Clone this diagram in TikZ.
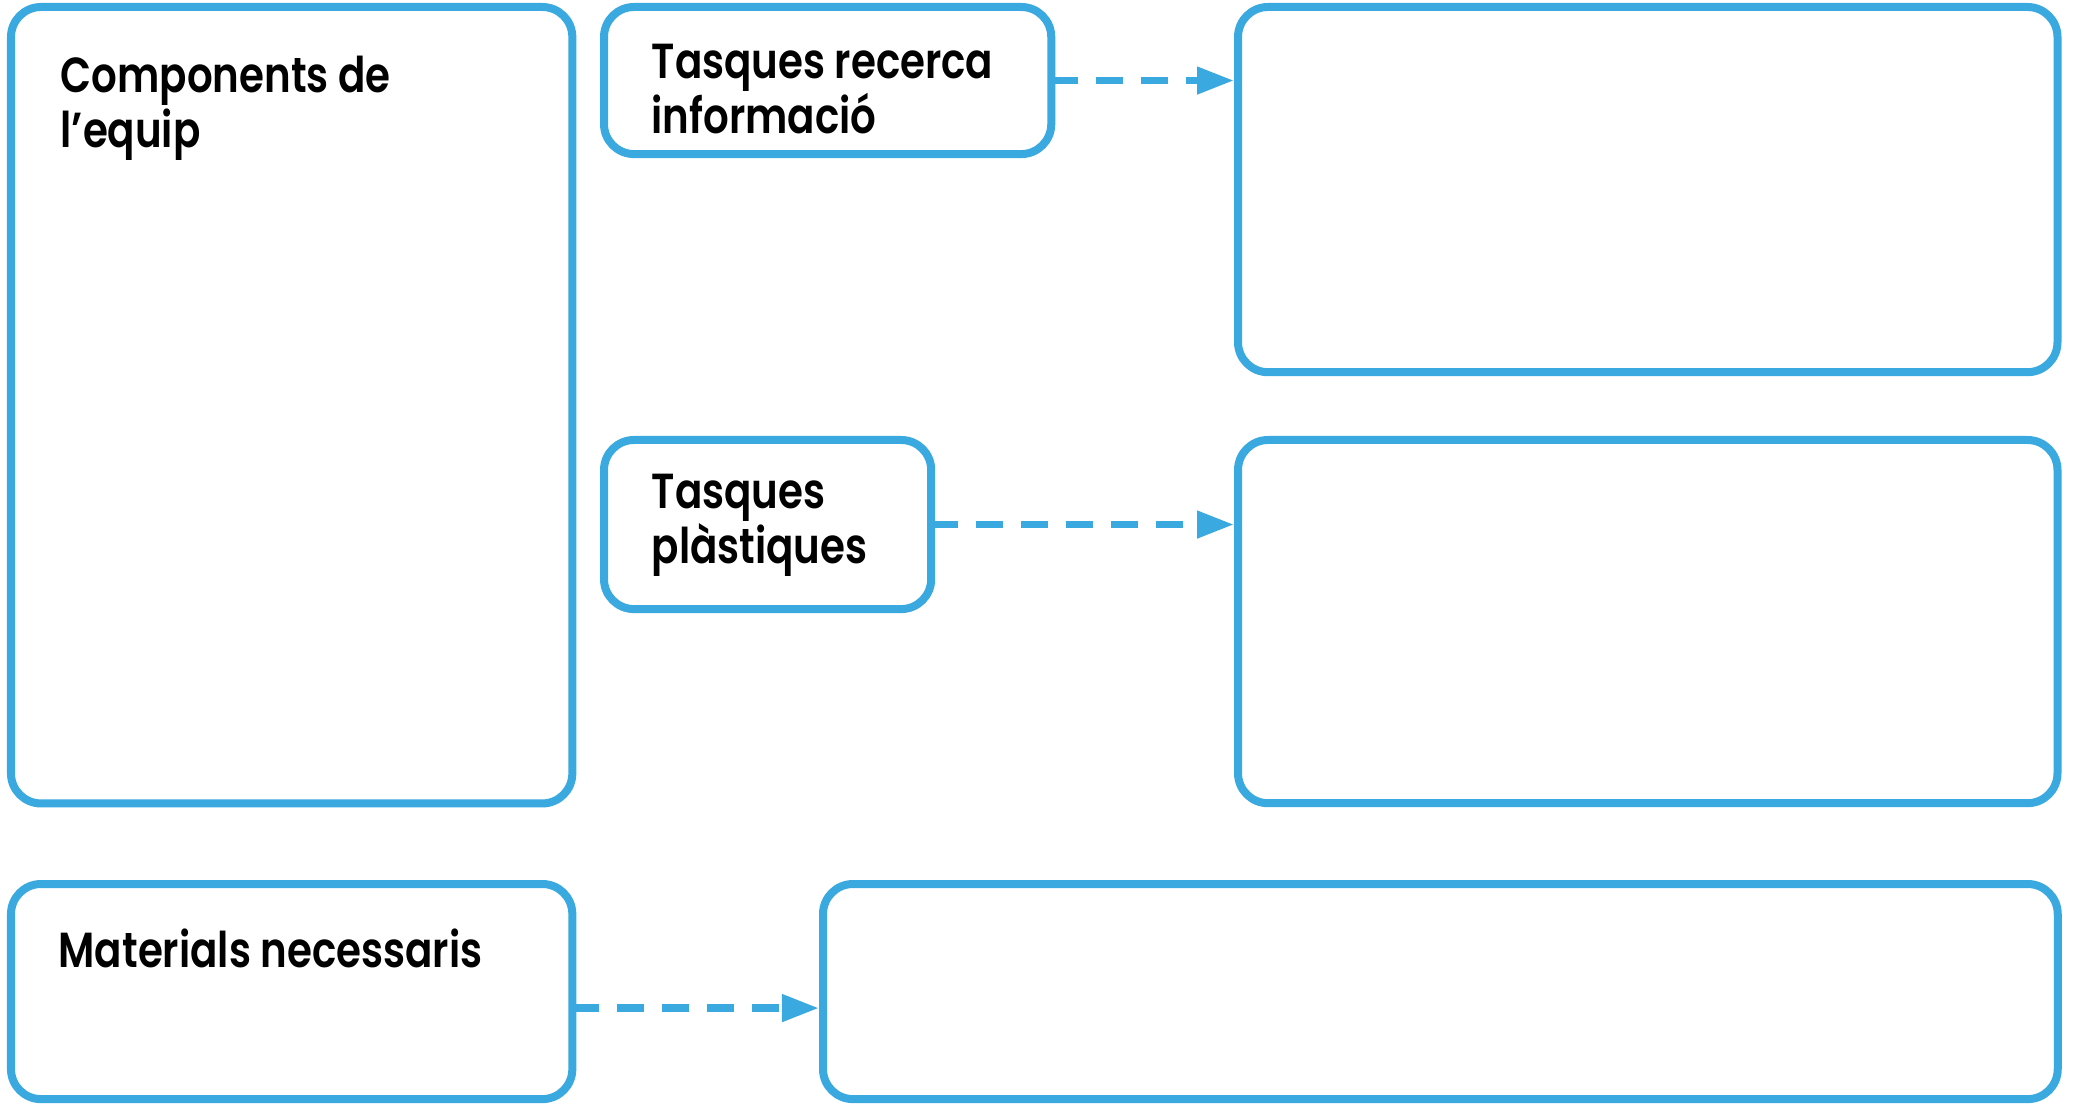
\documentclass[tikz,border=0pt]{standalone}
\usepackage{fontspec}
\setmainfont{Poppins}[BoldFont={Poppins SemiBold}, BoldFeatures={FakeStretch=0.82}]
\usetikzlibrary{arrows.meta}
\definecolor{sheetblue}{RGB}{58,169,224}

\begin{document}
\begin{tikzpicture}[x=0.01cm, y=-0.01cm,
					panel/.style={
						draw=sheetblue, fill=white, line width=0.08cm,
						rounded corners=0.3cm, inner sep=0pt, outer sep=0pt,
						anchor=north west
					},
					title/.style={
						anchor=base west, align=left, inner sep=0pt,
						font=\fontsize{14}{15.8}\selectfont\bfseries
					},
					link/.style={
						draw=sheetblue, line width=0.075cm,
						dash pattern=on 0.27cm off 0.18cm,
						-{Triangle[length=0.37cm,width=0.26cm]}, shorten >=0.04cm
					}
					]
					\useasboundingbox[fill=white] (0,0) rectangle (2083,1107);
					
					% columna esquerra
					\node[panel, minimum width=5.61cm, minimum height=7.96cm] (comp) at (11,7) {};
					\node[panel, minimum width=5.61cm, minimum height=2.15cm] (mat)  at (11,884) {};
					
					% tasques
					\node[panel, minimum width=4.47cm, minimum height=1.47cm] (info)   at (604,7) {};
					\node[panel, minimum width=3.27cm, minimum height=1.69cm] (plast)  at (604,440) {};
					
					% caixes buides de resposta
					\node[panel, minimum width=8.19cm, minimum height=3.65cm] (infobox)  at (1238,7) {};
					\node[panel, minimum width=8.19cm, minimum height=3.63cm] (plastbox) at (1238,440) {};
					\node[panel, minimum width=12.34cm, minimum height=2.15cm] (matbox)  at (823,884) {};
					
					% textos (base = darrera linia)
					\node[title] (comptxt)  at (60,148)  {Components de\\l’equip};
					\node[title] (infotxt)  at (651,134) {Tasques recerca\\informació};
					\node[title] (plasttxt) at (651,564) {Tasques\\plàstiques};
					\node[title] (mattxt)   at (58,967)  {Materials necessaris};
					
					% fletxes
					\coordinate (matout) at ([yshift=-0.165cm]mat.east);
					\draw[link] (info.east)  -- (info.east -| infobox.west);
					\draw[link] (plast.east) -- (plast.east -| plastbox.west);
					\draw[link] (matout)     -- (matout -| matbox.west);
				\end{tikzpicture}
\end{document}
